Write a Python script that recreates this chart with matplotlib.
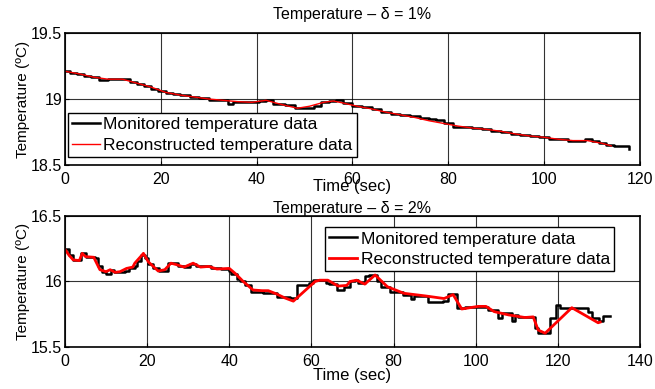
import matplotlib.pyplot as plt

plt.rcParams['font.family'] = ['Liberation Sans', 'DejaVu Sans']

# --- delta = 1 % ---
top_mon_t = [0, 1, 2.5, 4, 5.5, 7, 9, 10.5, 12, 13.5, 15, 16.5, 18, 19.5, 21, 22.5, 24, 26, 28, 30,
             32, 34, 35, 37, 39, 40.5, 42, 43.5, 46, 48, 50, 52, 53.5, 55, 56.5, 58, 60, 62, 64, 66,
             68, 70, 72, 74, 76, 77.5, 79, 81, 83, 85, 87, 89, 91, 93, 95, 97, 99, 101, 103, 105,
             107, 108.5, 110, 111.5, 113, 114.5, 117.6]
top_mon_v = [19.21, 19.20, 19.19, 19.175, 19.165, 19.145, 19.155, 19.15, 19.15, 19.13, 19.115, 19.10,
             19.075, 19.06, 19.048, 19.035, 19.03, 19.015, 19.01, 18.995, 18.99, 18.965, 18.975, 18.98,
             18.975, 18.985, 18.99, 18.96, 18.955, 18.935, 18.935, 18.95, 18.975, 18.985, 18.99, 18.97,
             18.95, 18.94, 18.925, 18.905, 18.89, 18.88, 18.875, 18.855, 18.85, 18.84, 18.82, 18.79,
             18.785, 18.78, 18.775, 18.76, 18.75, 18.735, 18.725, 18.72, 18.71, 18.70, 18.695, 18.68,
             18.685, 18.70, 18.685, 18.67, 18.65, 18.645, 18.625]
top_rec_t = [0, 3, 6, 9, 12, 15, 18, 21, 24, 27, 30, 33, 36, 39, 42, 45, 48.5, 51, 54, 56, 58, 61,
             64, 67, 70, 73, 76, 79, 82, 85, 88, 91, 94, 97, 100, 103, 106, 109, 112, 114]
top_rec_v = [19.21, 19.19, 19.165, 19.15, 19.15, 19.12, 19.09, 19.05, 19.03, 19.015, 19.0, 18.99,
             18.98, 18.975, 18.99, 18.96, 18.93, 18.945, 18.975, 18.985, 18.97, 18.945, 18.925, 18.90,
             18.88, 18.86, 18.835, 18.815, 18.795, 18.78, 18.77, 18.755, 18.735, 18.72, 18.71, 18.695,
             18.685, 18.685, 18.665, 18.645]

# --- delta = 2 % ---
bot_mon_t = [0, 1, 2, 3.8, 5, 7.2, 8, 9, 10, 11.2, 12, 14.5, 15.5, 17, 17.6, 18.5, 19.5, 20.3, 21.5,
             23, 25, 27.5, 29, 30.5, 32, 33.5, 35.5, 38, 40, 40.5, 42, 42.6, 43.8, 45.4, 48.3, 51.6,
             54.8, 56.4, 59.3, 60.5, 63.5, 64.4, 66.2, 68, 69.3, 70.6, 71.4, 73, 73.9, 76, 77, 79.1,
             82.4, 84.2, 85, 88.5, 92.1, 93.3, 95.4, 97.4, 103.1, 105.5, 106.3, 108.8, 109.6, 110.4,
             114.4, 115.2, 118.1, 119.6, 120.5, 127.4, 128.2, 129.9, 131.1, 132.7]
bot_mon_v = [16.245, 16.20, 16.165, 16.215, 16.19, 16.18, 16.12, 16.075, 16.06, 16.085, 16.07, 16.08,
             16.10, 16.12, 16.16, 16.20, 16.18, 16.135, 16.10, 16.08, 16.14, 16.12, 16.11, 16.13,
             16.12, 16.115, 16.10, 16.095, 16.08, 16.06, 16.02, 16.0, 15.97, 15.922, 15.91, 15.884,
             15.872, 15.973, 15.985, 16.01, 15.985, 15.98, 15.935, 15.96, 16.0, 16.01, 15.99, 16.04,
             16.05, 16.0, 15.96, 15.92, 15.90, 15.87, 15.89, 15.846, 15.85, 15.902, 15.795, 15.808,
             15.78, 15.72, 15.757, 15.70, 15.744, 15.732, 15.643, 15.605, 15.72, 15.82, 15.80, 15.77,
             15.72, 15.70, 15.735, 15.735]
bot_rec_t = [0, 1, 2, 3.5, 4.2, 5, 7, 8.5, 10, 11, 12.2, 13.4, 15, 16.5, 17, 18.7, 19.1, 20.3, 22.7,
             24.3, 25.8, 27, 29, 31.2, 33, 35, 37, 40, 41.5, 43.4, 45.8, 48, 49.5, 51.5, 53.5, 55.6,
             60.9, 62, 64, 66.5, 68.6, 69.4, 71, 73, 75.5, 78.5, 82.5, 87.7, 92.3, 94.5, 96.6, 100.6,
             102.5, 104.5, 108, 112, 114, 115.2, 116.9, 123.4, 129.8, 130.3]
bot_rec_v = [16.245, 16.20, 16.165, 16.16, 16.215, 16.19, 16.185, 16.09, 16.075, 16.09, 16.07, 16.075,
             16.10, 16.11, 16.14, 16.20, 16.215, 16.15, 16.08, 16.09, 16.14, 16.13, 16.11, 16.14,
             16.11, 16.115, 16.095, 16.10, 16.06, 16.0, 15.935, 15.93, 15.93, 15.905, 15.875, 15.85,
             16.0, 16.01, 16.01, 15.965, 15.97, 16.0, 16.01, 15.98, 16.05, 15.96, 15.91, 15.89,
             15.87, 15.90, 15.79, 15.81, 15.81, 15.77, 15.745, 15.725, 15.73, 15.63, 15.605, 15.80,
             15.685, 15.69]

fig = plt.figure(figsize=(6.55, 3.89), dpi=100)
ax1 = fig.add_axes([0.0992, 0.5758, 0.8779, 0.3394])
ax2 = fig.add_axes([0.0992, 0.108, 0.8779, 0.3367])

legend_kw = dict(fontsize=12.5, frameon=True, fancybox=False, edgecolor='black',
                 borderpad=0.25, handlelength=1.6, handletextpad=0.2, labelspacing=0.3,
                 borderaxespad=0.0, framealpha=1)

ax1.plot(top_mon_t, top_mon_v, color='black', lw=1.8, drawstyle='steps-post',
         label='Monitored temperature data')
ax1.plot(top_rec_t, top_rec_v, color='red', lw=1.0, label='Reconstructed temperature data')
ax1.set_xlim(0, 120)
ax1.set_ylim(18.5, 19.5)
ax1.set_xticks([0, 20, 40, 60, 80, 100, 120])
ax1.set_yticks([18.5, 19, 19.5])
ax1.set_yticklabels(['18.5', '19', '19.5'])
ax1.set_title('Temperature – δ = 1%', fontsize=11.5, pad=10)
ax1.set_xlabel('Time (sec)', fontsize=12, labelpad=-6)
ax1.set_ylabel('Temperature (ºC)', fontsize=11, labelpad=1)
ax1.legend(loc='lower left', bbox_to_anchor=(0.005, 0.06), **legend_kw)

ax2.plot(bot_mon_t, bot_mon_v, color='black', lw=1.8, drawstyle='steps-post',
         label='Monitored temperature data')
ax2.plot(bot_rec_t, bot_rec_v, color='red', lw=2.0, label='Reconstructed temperature data')
ax2.set_xlim(0, 140)
ax2.set_ylim(15.5, 16.5)
ax2.set_xticks([0, 20, 40, 60, 80, 100, 120, 140])
ax2.set_yticks([15.5, 16, 16.5])
ax2.set_yticklabels(['15.5', '16', '16.5'])
ax2.set_title('Temperature – δ = 2%', fontsize=11.5, pad=2)
ax2.set_xlabel('Time (sec)', fontsize=12, labelpad=-1)
ax2.set_ylabel('Temperature (ºC)', fontsize=11, labelpad=1)
ax2.legend(loc='upper right', bbox_to_anchor=(0.955, 0.916), **legend_kw)

for ax in (ax1, ax2):
    ax.grid(True, color='black', lw=0.8, alpha=0.8)
    ax.set_axisbelow(True)
    ax.tick_params(direction='in', length=3, labelsize=11.5)
    ax.tick_params(axis='x', pad=5)
    ax.tick_params(axis='y', pad=2)
    for s in ax.spines.values():
        s.set_linewidth(1.2)

fig.savefig('out.png', dpi=100)
